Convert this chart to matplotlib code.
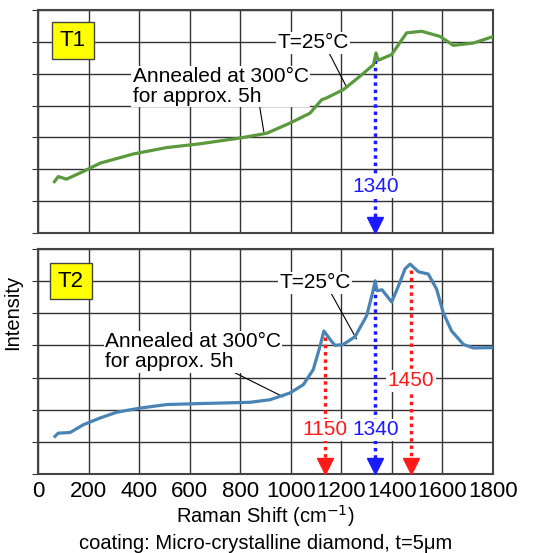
import numpy as np
import matplotlib.pyplot as plt

plt.rcParams['font.family'] = ['Liberation Sans', 'DejaVu Sans']

# T1 spectrum (green), y in grid units (0..7)
t1_x = [65, 80, 113, 179, 245, 377, 509, 641, 799, 905, 997, 1076, 1122, 1142,
        1208, 1274, 1327, 1337, 1346, 1399, 1458, 1518, 1590, 1643, 1722, 1795]
t1_y = [1.61, 1.77, 1.69, 1.93, 2.19, 2.48, 2.68, 2.80, 2.98, 3.13, 3.45, 3.76, 4.18, 4.24,
        4.50, 4.92, 5.28, 5.65, 5.42, 5.60, 6.28, 6.33, 6.17, 5.89, 5.96, 6.15]

# T2 spectrum (blue)
t2_x = [67, 80, 127, 179, 245, 311, 404, 509, 641, 839, 918, 997, 1050, 1089, 1116,
        1131, 1155, 1175, 1208, 1254, 1300, 1324, 1334, 1341, 1361, 1399, 1426, 1452,
        1472, 1505, 1544, 1577, 1603, 1636, 1683, 1722, 1795]
t2_y = [1.17, 1.27, 1.29, 1.53, 1.74, 1.92, 2.05, 2.16, 2.19, 2.23, 2.31, 2.52, 2.78, 3.25, 3.98,
        4.45, 4.19, 4.00, 4.03, 4.27, 4.92, 5.65, 6.01, 5.70, 5.73, 5.35, 5.85, 6.38,
        6.53, 6.29, 6.22, 5.75, 5.02, 4.45, 4.03, 3.92, 3.93]

# peak markers: (drawn position, label, colour)
t1_peaks = [(1335, '1340', '#1a1aff')]
t2_peaks = [(1135, '1150', '#ff1a1a'), (1335, '1340', '#1a1aff'), (1475, '1450', '#ff1a1a')]

xticks = list(range(0, 1801, 200))

fig = plt.figure(figsize=(5.54, 5.53), dpi=100)
ax1 = fig.add_axes([0.0686, 0.5787, 0.8213, 0.4033])
ax2 = fig.add_axes([0.0686, 0.1429, 0.8213, 0.4069])


def style(ax):
    ax.set_xlim(0, 1800)
    ax.set_ylim(0, 7)
    ax.set_xticks(xticks)
    ax.set_yticks(range(8))
    ax.grid(True, color='#333333', lw=1.0)
    ax.set_axisbelow(True)
    for s in ax.spines.values():
        s.set_color('#444444')
        s.set_linewidth(1.5)
    ax.tick_params(axis='y', length=4, direction='out', color='#333333', labelleft=False)
    ax.tick_params(axis='x', length=0)


def peak_arrows(ax, cx, cy, peaks, label_y):
    for (px, lab, col), ly in zip(peaks, label_y):
        top = np.interp(px, cx, cy) - 0.15
        ax.plot([px, px], [top, 0.5], ls=(0, (1, 1.1)), color=col, lw=2.5, zorder=3)
        ax.plot(px, 0.25, marker='v', ms=11, color=col, mec=col, zorder=3)
        ax.text(px, ly, lab, color=col, fontsize=15, ha='center', va='center', zorder=4,
                bbox=dict(fc='white', ec='none', pad=1))


def label_box(ax, x, y, txt):
    ax.text(x, y, txt, fontsize=16, ha='center', va='center',
            bbox=dict(fc='#ffff00', ec='#444444', lw=1, boxstyle='square,pad=0.35'))


def leader(ax, txt, xy, xytext, size, ha):
    ax.annotate(txt, xy=xy, xytext=xytext, fontsize=size, ha=ha, va='center',
                linespacing=1.05, bbox=dict(fc='white', ec='none', pad=1),
                arrowprops=dict(arrowstyle='-', color='black', lw=0.8, shrinkA=0, shrinkB=0,
                                relpos=(0.72, 0.0)))


style(ax1)
ax1.tick_params(axis='x', labelbottom=False)
ax1.plot(t1_x, t1_y, color='#5b9a3c', lw=2.3, zorder=5)
peak_arrows(ax1, t1_x, t1_y, t1_peaks, [1.45])
label_box(ax1, 138, 6.04, 'T1')
leader(ax1, 'T=25°C', (1222, 4.56), (1088, 5.97), 15, 'center')
leader(ax1, 'Annealed at 300°C\nfor approx. 5h', (895, 3.1), (375, 4.6), 15, 'left')

style(ax2)
ax2.plot(t2_x, t2_y, color='#4a84b5', lw=2.3, zorder=5)
peak_arrows(ax2, t2_x, t2_y, t2_peaks, [1.38, 1.38, 2.9])
label_box(ax2, 130, 6.0, 'T2')
leader(ax2, 'T=25°C', (1260, 4.2), (1095, 5.95), 15, 'center')
leader(ax2, 'Annealed at 300°C\nfor approx. 5h', (970, 2.4), (265, 3.8), 15, 'left')
ax2.set_xticklabels([str(v) for v in xticks], fontsize=16)
ax2.tick_params(axis='x', pad=5)
ax2.set_xlabel('Raman Shift (cm$^{-1}$)', fontsize=14.5, labelpad=1)

fig.text(0.022, 0.435, 'Intensity', rotation=90, fontsize=14.5, ha='center', va='center')
fig.text(0.48, 0.018, 'coating: Micro-crystalline diamond, t=5μm', fontsize=14.5,
         ha='center', va='center')

fig.savefig('out.png', dpi=100)
